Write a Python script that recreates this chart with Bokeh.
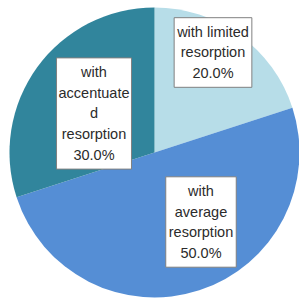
import math
from bokeh.plotting import figure
from bokeh.models import Range1d, Label, ColumnDataSource
from bokeh.embed import file_html
from bokeh.resources import INLINE

# data
categories = ["with limited resorption", "with average resorption", "with accentuated resorption"]
label_texts = ["with limited\nresorption", "with\naverage\nresorption", "with\naccentuate\nd\nresorption"]
shares = [20.0, 50.0, 30.0]

# styles / layout
colors = ["#b7dde8", "#558ed5", "#31859c"]
W, H = 299, 300
cx, cy, R = 154, 148, 145
label_offsets = [(58.5, 100), (46.5, -69.5), (-60.5, 39)]
label_pads = [(3, 6), (3, 6), (2, 6)]

total = sum(shares)
starts, ends = [], []
acc = 0.0
for s in shares:
    starts.append(math.pi / 2 - acc / total * 2 * math.pi)
    acc += s
    ends.append(math.pi / 2 - acc / total * 2 * math.pi)

src = ColumnDataSource(dict(x=[cx] * 3, y=[cy] * 3, start=starts, end=ends, color=colors, cat=categories))

p = figure(width=W, height=H, output_backend="svg", toolbar_location=None,
           x_range=Range1d(0, W), y_range=Range1d(0, H), min_border=0)
p.wedge(x="x", y="y", radius=R, start_angle="start", end_angle="end", direction="clock",
        fill_color="color", line_color=None, source=src)
p.axis.visible = False
p.grid.visible = False
p.outline_line_color = None
p.background_fill_color = "white"

for txt, val, (dx, dy), pad in zip(label_texts, shares, label_offsets, label_pads):
    p.add_layout(Label(x=cx + dx, y=cy + dy, text=f"{txt}\n{val:.1f}%",
                       text_align="center", text_baseline="middle",
                       text_font="Liberation Sans", text_font_size="14.5px",
                       text_color="#2b2b2b", text_line_height=1.3,
                       background_fill_color="white", border_line_color="#808080",
                       border_line_width=1, padding=pad))

open("out.html", "w").write(file_html(p, INLINE))
